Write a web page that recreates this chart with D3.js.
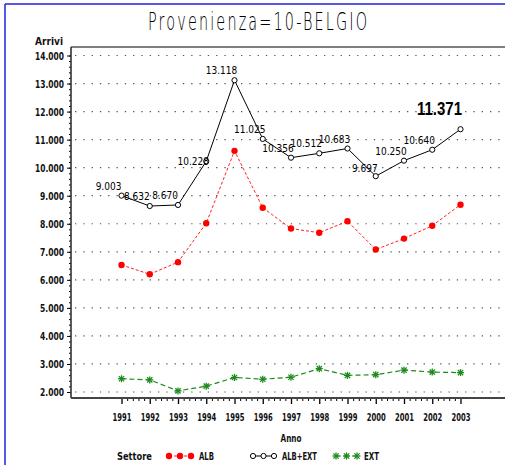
<!DOCTYPE html>
<html>
<head>
<meta charset="utf-8">
<script src="https://cdn.jsdelivr.net/npm/d3@7"></script>
<style>
  body { margin: 0; background: #fff; }
  svg { display: block; }
  .ax { font-family: "DejaVu Sans Condensed", "DejaVu Sans", sans-serif; font-weight: bold; font-size: 11px; fill: #111; }
  .lbl { font-family: "Liberation Sans Narrow", "DejaVu Sans Condensed", sans-serif; font-size: 10px; fill: #000; }
</style>
</head>
<body>
<svg width="505" height="465"></svg>
<script>
var years = [1991, 1992, 1993, 1994, 1995, 1996, 1997, 1998, 1999, 2000, 2001, 2002, 2003];
var alb = [6530, 6200, 6630, 8020, 10600, 8570, 7830, 7680, 8090, 7080, 7470, 7930, 8680];
var albExt = [9003, 8632, 8670, 10228, 13118, 11025, 10356, 10512, 10683, 9697, 10250, 10640, 11371];
var ext = [2473, 2432, 2040, 2208, 2518, 2455, 2526, 2832, 2593, 2617, 2780, 2710, 2691];
var yTicks = [2000, 3000, 4000, 5000, 6000, 7000, 8000, 9000, 10000, 11000, 12000, 13000, 14000];
var title = 'Provenienza=10-BELGIO';

var fmt = function(v) { return d3.format(',')(v).replace(/,/g, '.'); };

var svg = d3.select('svg');
var x = d3.scaleLinear().domain([1991, 2003]).range([121.5, 460.5]);
var y = d3.scaleLinear().domain([2000, 14000]).range([392, 55.5]);
var pLeft = 71, pTop = 47, pBottom = 398, pRight = 505;

// blue page border
svg.append('line').attr('x1', 5).attr('x2', 5).attr('y1', 4).attr('y2', 465)
  .attr('stroke', '#2020e0').attr('stroke-width', 1.5);
svg.append('line').attr('x1', 5).attr('x2', 505).attr('y1', 4).attr('y2', 4)
  .attr('stroke', '#2020e0').attr('stroke-width', 1.5);

svg.append('text')
  .attr('transform', 'translate(148,30) scale(0.6,1)')
  .attr('textLength', 219 / 0.6).attr('lengthAdjust', 'spacing')
  .style('font-family', '"DejaVu Sans", sans-serif')
  .style('font-weight', '200')
  .style('font-size', '24px')
  .text(title);

// grid
svg.append('g').selectAll('line')
  .data(yTicks)
  .enter()
  .append('line')
  .attr('x1', pLeft + 4).attr('x2', pRight)
  .attr('y1', function(d) { return y(d); })
  .attr('y2', function(d) { return y(d); })
  .attr('stroke', '#555')
  .attr('stroke-width', 1.2)
  .attr('stroke-dasharray', '1.3,7');

// frame
svg.append('line').attr('x1', pLeft).attr('x2', pRight).attr('y1', pTop).attr('y2', pTop)
  .attr('stroke', '#000').attr('stroke-width', 1.2);

// y axis
var minorY = d3.range(2000, 14001, 200);
svg.append('g')
  .attr('transform', 'translate(' + pLeft + ',0)')
  .call(d3.axisLeft(y).tickValues(minorY).tickSize(2).tickFormat(''))
  .call(function(g) { g.select('.domain').remove(); });
var yAxis = svg.append('g')
  .attr('transform', 'translate(' + pLeft + ',0)')
  .call(d3.axisLeft(y).tickValues(yTicks).tickSize(4).tickPadding(3).tickFormat(fmt));
yAxis.select('.domain').remove();
yAxis.selectAll('text').attr('class', 'ax').attr('textLength', 29).attr('lengthAdjust', 'spacingAndGlyphs');
yAxis.selectAll('text').filter(function(d) { return d < 10000; })
  .attr('textLength', 24);
svg.append('line').attr('x1', pLeft).attr('x2', pLeft).attr('y1', pTop).attr('y2', pBottom)
  .attr('stroke', '#333').attr('stroke-width', 1.6);
svg.append('text').attr('class', 'ax')
  .attr('x', 35).attr('y', 45)
  .attr('textLength', 28).attr('lengthAdjust', 'spacingAndGlyphs')
  .style('font-size', '10px')
  .text('Arrivi');

// x axis
var minorX = [];
years.slice(0, -1).forEach(function(yr) {
  for (var k = 1; k < 5; k++) minorX.push(yr + k / 5);
});
svg.append('g')
  .attr('transform', 'translate(0,' + pBottom + ')')
  .call(d3.axisBottom(x).tickValues(minorX).tickSize(3).tickFormat(''))
  .call(function(g) { g.select('.domain').remove(); });
var xAxis = svg.append('g')
  .attr('transform', 'translate(0,' + pBottom + ')')
  .call(d3.axisBottom(x).tickValues(years).tickSize(6).tickPadding(9).tickFormat(d3.format('d')));
xAxis.select('.domain').remove();
xAxis.selectAll('line').attr('stroke-width', 1.3);
xAxis.selectAll('text').attr('class', 'ax')
  .attr('textLength', 19).attr('lengthAdjust', 'spacingAndGlyphs');
svg.append('line').attr('x1', pLeft).attr('x2', pRight).attr('y1', pBottom).attr('y2', pBottom)
  .attr('stroke', '#444').attr('stroke-width', 2);

svg.append('text').attr('class', 'ax')
  .attr('x', 291).attr('y', 442).attr('text-anchor', 'middle')
  .attr('textLength', 21).attr('lengthAdjust', 'spacingAndGlyphs')
  .text('Anno');

// series
var line = function(vals) {
  return d3.line()
    .x(function(d, i) { return x(years[i]); })
    .y(function(d) { return y(d); })(vals);
};

var star = function(g, cx, cy, col) {
  var s = 3.5;
  [[-s, 0, s, 0], [0, -s, 0, s], [-s * 0.75, -s * 0.75, s * 0.75, s * 0.75], [-s * 0.75, s * 0.75, s * 0.75, -s * 0.75]]
    .forEach(function(p) {
      g.append('line')
        .attr('x1', cx + p[0]).attr('y1', cy + p[1])
        .attr('x2', cx + p[2]).attr('y2', cy + p[3])
        .attr('stroke', col).attr('stroke-width', 1.3);
    });
};

svg.append('path').attr('d', line(alb)).attr('fill', 'none')
  .attr('stroke', '#ff2020').attr('stroke-width', 1).attr('stroke-dasharray', '3,2');
svg.append('g').selectAll('circle')
  .data(alb)
  .enter()
  .append('circle')
  .attr('cx', function(d, i) { return x(years[i]); })
  .attr('cy', function(d) { return y(d); })
  .attr('r', 3.2)
  .attr('fill', '#ff0000');

svg.append('path').attr('d', line(albExt)).attr('fill', 'none')
  .attr('stroke', '#000').attr('stroke-width', 1);
svg.append('g').selectAll('circle')
  .data(albExt)
  .enter()
  .append('circle')
  .attr('cx', function(d, i) { return x(years[i]); })
  .attr('cy', function(d) { return y(d); })
  .attr('r', 2.6)
  .attr('fill', '#fff')
  .attr('stroke', '#000')
  .attr('stroke-width', 1);

svg.append('path').attr('d', line(ext)).attr('fill', 'none')
  .attr('stroke', '#1a8a1a').attr('stroke-width', 1.2).attr('stroke-dasharray', '5,3');
var extG = svg.append('g');
ext.forEach(function(d, i) { star(extG, x(years[i]), y(d), '#1a8a1a'); });

// value labels on ALB+EXT
var nudge = { 1994: [-13, 4], 2000: [-11, -4] };
svg.append('g').selectAll('text')
  .data(albExt.slice(0, -1))
  .enter()
  .append('text')
  .attr('class', 'lbl')
  .attr('text-anchor', 'middle')
  .attr('x', function(d, i) { var n = nudge[years[i]] || [-13, -6]; return x(years[i]) + n[0]; })
  .attr('y', function(d, i) { var n = nudge[years[i]] || [-13, -6]; return y(d) + n[1]; })
  .text(fmt);
var lastI = albExt.length - 1;
svg.append('text')
  .attr('text-anchor', 'middle')
  .attr('x', x(years[lastI]) - 21)
  .attr('y', y(albExt[lastI]) - 14)
  .attr('textLength', 45).attr('lengthAdjust', 'spacingAndGlyphs')
  .style('font-family', '"Liberation Sans", Arial, sans-serif')
  .style('font-weight', 'bold')
  .style('font-size', '19px')
  .text(fmt(albExt[lastI]));

// legend
var ly = 456;
var lg = svg.append('g');
lg.append('text').attr('class', 'ax').attr('x', 117).attr('y', ly + 4)
  .attr('textLength', 35).attr('lengthAdjust', 'spacingAndGlyphs')
  .text('Settore');
lg.append('line').attr('x1', 169).attr('x2', 191).attr('y1', ly).attr('y2', ly)
  .attr('stroke', '#ff2020').attr('stroke-dasharray', '3,2');
[169, 180, 191].forEach(function(cx) {
  lg.append('circle').attr('cx', cx).attr('cy', ly).attr('r', 3.2).attr('fill', '#ff0000');
});
lg.append('text').attr('class', 'ax').attr('x', 199).attr('y', ly + 4)
  .attr('textLength', 15).attr('lengthAdjust', 'spacingAndGlyphs')
  .text('ALB');
lg.append('line').attr('x1', 253).attr('x2', 274).attr('y1', ly).attr('y2', ly).attr('stroke', '#000');
[253, 263.5, 274].forEach(function(cx) {
  lg.append('circle').attr('cx', cx).attr('cy', ly).attr('r', 2.6)
    .attr('fill', '#fff').attr('stroke', '#000');
});
lg.append('text').attr('class', 'ax').attr('x', 282).attr('y', ly + 4)
  .attr('textLength', 35).attr('lengthAdjust', 'spacingAndGlyphs')
  .text('ALB+EXT');
lg.append('line').attr('x1', 336).attr('x2', 357).attr('y1', ly).attr('y2', ly)
  .attr('stroke', '#1a8a1a').attr('stroke-dasharray', '5,3');
[336, 346.5, 357].forEach(function(cx) { star(lg, cx, ly, '#1a8a1a'); });
lg.append('text').attr('class', 'ax').attr('x', 364).attr('y', ly + 4)
  .attr('textLength', 15).attr('lengthAdjust', 'spacingAndGlyphs')
  .text('EXT');
</script>
</body>
</html>
